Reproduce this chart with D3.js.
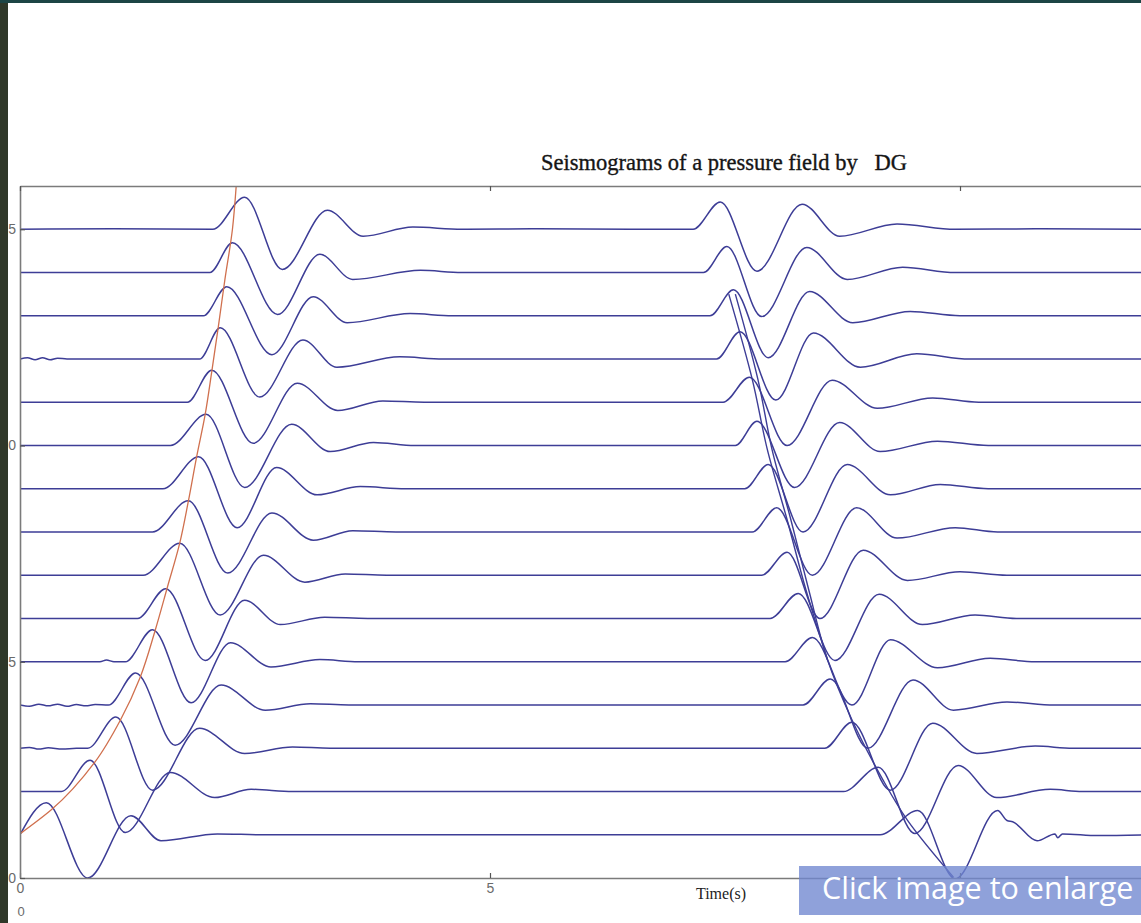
<!DOCTYPE html>
<html><head><meta charset="utf-8">
<script src="https://cdn.jsdelivr.net/npm/d3@7"></script>
<style>
html,body{margin:0;padding:0;background:#fff;overflow:hidden}
svg{display:block}
</style></head><body>
<svg id="chart" width="1141" height="923"></svg>
<script>
// ---- data (time in s, amplitude in trace units) ----
const xTicks = [0, 5, 10];
const xTickLabels = ["0", "5", ""];
const yTicks = [0, 5, 10, 15];
const titleText = "Seismograms of a pressure field by   DG";
const xLabel = "Time(s)";

const trace1  = [[0,0],[0.28,0.74],[0.72,-1.0],[1.18,0.44],[1.5,-0.14],[2.1,0.02],[2.6,0],[9.15,0],[9.55,0.56],[9.95,-1.02],[10.4,0.56],[10.5,0.33],[10.56,0.3],[10.82,-0.14],[11.01,0.02],[11.04,-0.07],[11.09,0.02],[11.47,-0.02],[12,0]];
const trace2  = [[0,0],[0.44,0],[0.745,0.72],[1.12,-0.95],[1.6,0.44],[2.07,-0.14],[2.46,0.05],[2.9,0],[8.76,0],[9.13,0.56],[9.52,-0.97],[9.98,0.6],[10.39,-0.14],[10.96,0.05],[11.3,0],[12,0]];
const trace3  = [[0,0],[0.1,0.02],[0.2,-0.02],[0.3,0.01],[0.45,-0.02],[0.6,0],[0.72,0],[1.02,0.72],[1.41,-0.97],[1.91,0.46],[2.39,-0.12],[2.9,0.03],[3.3,0],[8.56,0],[8.85,0.6],[9.26,-0.97],[9.71,0.58],[10.18,-0.12],[10.8,0.05],[11.2,0],[12,0]];
const trace4  = [[0,0],[0.1,-0.03],[0.2,0.02],[0.3,-0.02],[0.4,0.02],[0.5,-0.03],[0.6,0.01],[0.7,-0.02],[0.8,0.01],[0.94,0],[1.23,0.74],[1.65,-0.93],[2.14,0.46],[2.61,-0.12],[3.09,0.03],[3.5,0],[8.33,0],[8.62,0.6],[9.02,-1.0],[9.5,0.58],[9.93,-0.12],[10.5,0.07],[11.0,0],[12,0]];
const trace5  = [[0,0],[0.85,0],[0.92,0.04],[1.0,0],[1.12,0],[1.41,0.74],[1.82,-0.95],[2.24,0.44],[2.67,-0.12],[3.19,0.05],[3.6,0],[8.14,0],[8.43,0.56],[8.85,-1.0],[9.26,0.51],[9.76,-0.14],[10.32,0.08],[10.8,0],[12,0]];
const trace6  = [[0,0],[1.25,0],[1.55,0.69],[1.97,-0.97],[2.39,0.42],[2.77,-0.14],[3.24,0.03],[3.7,0],[7.98,0],[8.28,0.58],[8.67,-0.97],[9.14,0.56],[9.6,-0.14],[10.16,0.08],[10.6,0],[12,0]];
const trace7  = [[0,0],[1.31,0],[1.7,0.74],[2.13,-0.92],[2.59,0.46],[3.03,-0.16],[3.46,0.03],[3.9,0],[7.89,0],[8.16,0.53],[8.51,-1.0],[8.97,0.58],[9.44,-0.12],[10.0,0.08],[10.5,0],[12,0]];
const trace8  = [[0,0],[1.41,0],[1.79,0.72],[2.21,-0.95],[2.68,0.44],[3.12,-0.19],[3.54,0.03],[4.0,0],[7.79,0],[8.05,0.56],[8.43,-1.0],[8.9,0.56],[9.33,-0.14],[9.95,0.1],[10.4,0],[12,0]];
const trace9  = [[0,0],[1.52,0],[1.9,0.74],[2.31,-0.9],[2.73,0.49],[3.16,-0.14],[3.62,0.05],[4.1,0],[7.71,0],[7.96,0.56],[8.33,-1.0],[8.8,0.56],[9.26,-0.14],[9.79,0.1],[10.3,0],[12,0]];
const trace10 = [[0,0],[1.6,0],[1.98,0.72],[2.39,-0.97],[2.89,0.49],[3.3,-0.14],[3.76,0.07],[4.2,0],[7.61,0],[7.84,0.56],[8.24,-0.97],[8.72,0.53],[9.15,-0.14],[9.76,0.1],[10.3,0],[12,0]];
const trace11 = [[0,0],[1.78,0],[2.04,0.74],[2.48,-0.95],[2.95,0.44],[3.38,-0.19],[3.86,0.03],[4.3,0],[7.48,0],[7.76,0.58],[8.16,-1.0],[8.64,0.51],[9.12,-0.14],[9.71,0.1],[10.2,0],[12,0]];
const trace12 = [[0,0],[0.08,0.03],[0.16,-0.02],[0.24,0.03],[0.32,-0.02],[0.4,0.02],[0.5,0],[1.91,0],[2.13,0.72],[2.55,-0.88],[3.01,0.44],[3.37,-0.19],[4.04,0.05],[4.5,0],[7.41,0],[7.66,0.63],[8.04,-0.95],[8.44,0.6],[8.94,-0.19],[9.54,0.12],[10.1,0],[12,0]];
const trace13 = [[0,0],[1.95,0],[2.2,0.67],[2.68,-0.9],[3.12,0.44],[3.48,-0.16],[4.15,0.05],[4.6,0],[7.34,0],[7.59,0.6],[7.96,-0.97],[8.4,0.56],[8.86,-0.16],[9.47,0.1],[10.0,0],[12,0]];
const trace14 = [[0,0],[2.02,0],[2.26,0.69],[2.74,-0.97],[3.19,0.42],[3.54,-0.16],[4.26,0.05],[4.7,0],[7.27,0],[7.52,0.6],[7.89,-1.02],[8.37,0.58],[8.8,-0.16],[9.39,0.12],[9.95,0],[12,0]];
const trace15 = [[0,0],[1.0,0.01],[2.05,0],[2.39,0.74],[2.79,-0.93],[3.27,0.44],[3.65,-0.16],[4.18,0.05],[4.7,0],[5.5,0.01],[6.5,0],[7.16,0],[7.45,0.63],[7.84,-0.97],[8.32,0.58],[8.72,-0.16],[9.33,0.12],[9.95,0],[10.8,0.01],[12,0]];

// arrival-time curves: [time, receiver position]
const directArrival = [[0,1.02],[0.33,1.57],[0.8,2.69],[1.07,3.66],[1.28,4.65],[1.44,5.74],[1.57,6.74],[1.7,7.75],[1.79,8.7],[1.88,9.75],[1.97,10.72],[2.04,11.71],[2.11,12.75],[2.18,13.84],[2.26,15.0],[2.3,16.0]];
const reflectedArrivalA = [[7.61,13.5],[7.85,11.53],[8.0,9.91],[8.2,8.29],[8.39,6.67],[8.59,5.05],[8.85,3.66],[9.18,2.27],[9.44,1.34],[9.93,0.02]];
const reflectedArrivalB = [[7.54,13.5],[7.79,11.53],[7.95,9.91],[8.16,8.29],[8.36,6.67],[8.59,5.05]];

const traces = [trace1,trace2,trace3,trace4,trace5,trace6,trace7,trace8,trace9,trace10,trace11,trace12,trace13,trace14,trace15];

// ---- drawing ----
const svg = d3.select("#chart");
const W = 1141, H = 923;
const x = d3.scaleLinear().domain([0, 12]).range([20, 1148]);
const y = d3.scaleLinear().domain([0, 16]).range([878, 186]);

svg.append("rect").attr("width", W).attr("height", H).attr("fill", "#ffffff");

svg.append("defs").append("clipPath").attr("id", "plotclip")
  .append("rect").attr("x", x(0)).attr("y", y(16)).attr("width", x(12) - x(0)).attr("height", y(0) - y(16));

const plot = svg.append("g").attr("clip-path", "url(#plotclip)");

const traceColor = "#3d3d96";
traces.forEach((tr, i) => {
  const base = i + 1;
  const line = d3.line().x(d => x(d[0])).y(d => y(base + d[1])).curve(d3.curveMonotoneX);
  plot.append("path").attr("d", line(tr)).attr("fill", "none")
    .attr("stroke", traceColor).attr("stroke-width", 1.5).attr("stroke-linejoin", "round");
});

const arrLine = d3.line().x(d => x(d[0])).y(d => y(d[1])).curve(d3.curveMonotoneY);
plot.append("path").attr("d", arrLine(directArrival)).attr("fill", "none")
  .attr("stroke", "#d0704e").attr("stroke-width", 1.3);
const arrLine2 = d3.line().x(d => x(d[0])).y(d => y(d[1])).curve(d3.curveCatmullRom);
plot.append("path").attr("d", arrLine2(reflectedArrivalA)).attr("fill", "none")
  .attr("stroke", traceColor).attr("stroke-width", 1.4);
plot.append("path").attr("d", arrLine2(reflectedArrivalB)).attr("fill", "none")
  .attr("stroke", traceColor).attr("stroke-width", 1.4);

// frame
const frameColor = "#7b7b7b";
const ax = svg.append("g");
ax.append("g").attr("transform", `translate(0,${y(0)})`)
  .call(d3.axisBottom(x).tickValues(xTicks).tickSizeInner(-5).tickSizeOuter(0).tickPadding(5)
    .tickFormat((d, i) => xTickLabels[i]));
ax.append("g").attr("transform", `translate(${x(0)},0)`)
  .call(d3.axisLeft(y).tickValues(yTicks).tickSizeInner(-5).tickSizeOuter(0).tickPadding(4).tickFormat(d3.format("d")));
ax.append("g").attr("transform", `translate(0,${y(16)})`)
  .call(d3.axisTop(x).tickValues(xTicks).tickSizeInner(-5).tickSizeOuter(0).tickFormat(""));
ax.selectAll(".domain").attr("stroke", frameColor).attr("stroke-width", 1.6);
ax.selectAll(".tick line").attr("stroke", "#555").attr("stroke-width", 1.2);
ax.selectAll(".tick text").attr("fill", "#6a6a6a").style("font-family", "'Liberation Sans', Arial, sans-serif").style("font-size", "14px");

svg.append("text").attr("x", x(0) + 1).attr("y", 916).attr("text-anchor", "middle")
  .attr("fill", "#6a6a6a").style("font-family", "'Liberation Sans', Arial, sans-serif").style("font-size", "13px").text("0");

// title & label
svg.append("text").attr("x", 724).attr("y", 170).attr("text-anchor", "middle")
  .style("white-space", "pre").attr("xml:space", "preserve")
  .style("font-family", "'Liberation Serif', 'Times New Roman', serif").style("font-size", "22.5px")
  .attr("fill", "#151515").attr("stroke", "#151515").attr("stroke-width", 0.35).text(titleText);
svg.append("text").attr("x", 721).attr("y", 899).attr("text-anchor", "middle")
  .style("font-family", "'Liberation Serif', 'Times New Roman', serif").style("font-size", "16px")
  .attr("fill", "#222").text(xLabel);

// overlay
svg.append("rect").attr("x", 799).attr("y", 866).attr("width", 360).attr("height", 49)
  .attr("fill", "#6f86d0").attr("opacity", 0.78);
svg.append("text").attr("x", 822).attr("y", 899)
  .style("font-family", "'Open Sans', 'Noto Sans', sans-serif").style("font-size", "30.5px")
  .attr("fill", "#ffffff").text("Click image to enlarge");

// page edges
svg.append("rect").attr("x", 0).attr("y", 0).attr("width", 8).attr("height", H).attr("fill", "#2f3829");
svg.append("rect").attr("x", 0).attr("y", 0).attr("width", W).attr("height", 3).attr("fill", "#1d4545");
</script>
</body></html>
